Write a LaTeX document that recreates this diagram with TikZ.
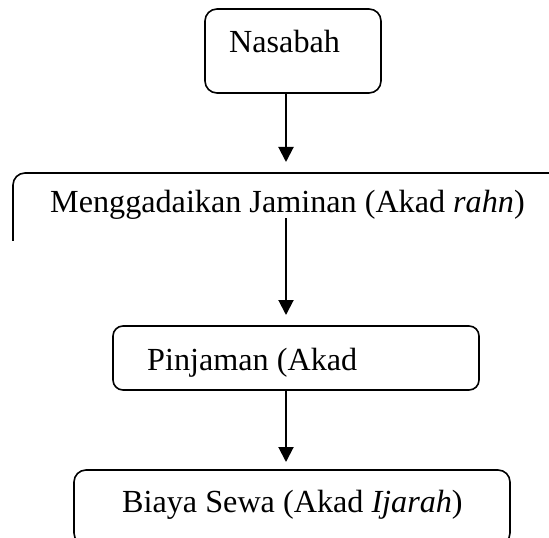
\documentclass[tikz,border=0pt]{standalone}
\usepackage{fontspec}
\setmainfont{Liberation Serif}
\usetikzlibrary{arrows.meta}
\begin{document}
\begin{tikzpicture}[x=1bp,y=-1bp,
  box/.style={draw, line width=1.6bp, rounded corners=12bp, inner sep=0pt, outer sep=0pt, anchor=north west},
  lbl/.style={anchor=base west, inner sep=0pt, font=\fontsize{32.3}{36}\selectfont},
  conn/.style={line width=2bp, -{Triangle[width=15bp,length=15bp]}}]
\useasboundingbox (0,0) rectangle (549,538);
\clip (0,0) rectangle (549,538);
\node[box, minimum width=176bp, minimum height=84bp] (b1) at (205,9) {};
\begin{scope}
\clip (0,0) rectangle (549,240);
\node[box, minimum width=600bp, minimum height=120bp] (b2) at (13,173) {};
\end{scope}
\node[box, rounded corners=10bp, minimum width=366bp, minimum height=64bp] (b3) at (113,326) {};
\node[box, minimum width=436bp, minimum height=75bp] (b4) at (74,470) {};
\coordinate (ax) at (286,0);
\coordinate (b2out) at (286,218);
\draw[conn, shorten >=11bp] (b1.south -| ax) -- (b2.north -| ax);
\draw[conn, shorten >=11bp] (b2out) -- (b3.north -| ax);
\draw[conn, shorten >=8bp] (b3.south -| ax) -- (b4.north -| ax);
\node[lbl] (t1) at (229,53) {Nasabah};
\node[lbl] (t2) at (50,213) {Menggadaikan Jaminan (Akad \textit{rahn})};
\node[lbl] (t3) at (147,370) {Pinjaman (Akad};
\node[lbl] (t4) at (122,512) {Biaya Sewa (Akad \textit{Ijarah})};
\end{tikzpicture}
\end{document}
